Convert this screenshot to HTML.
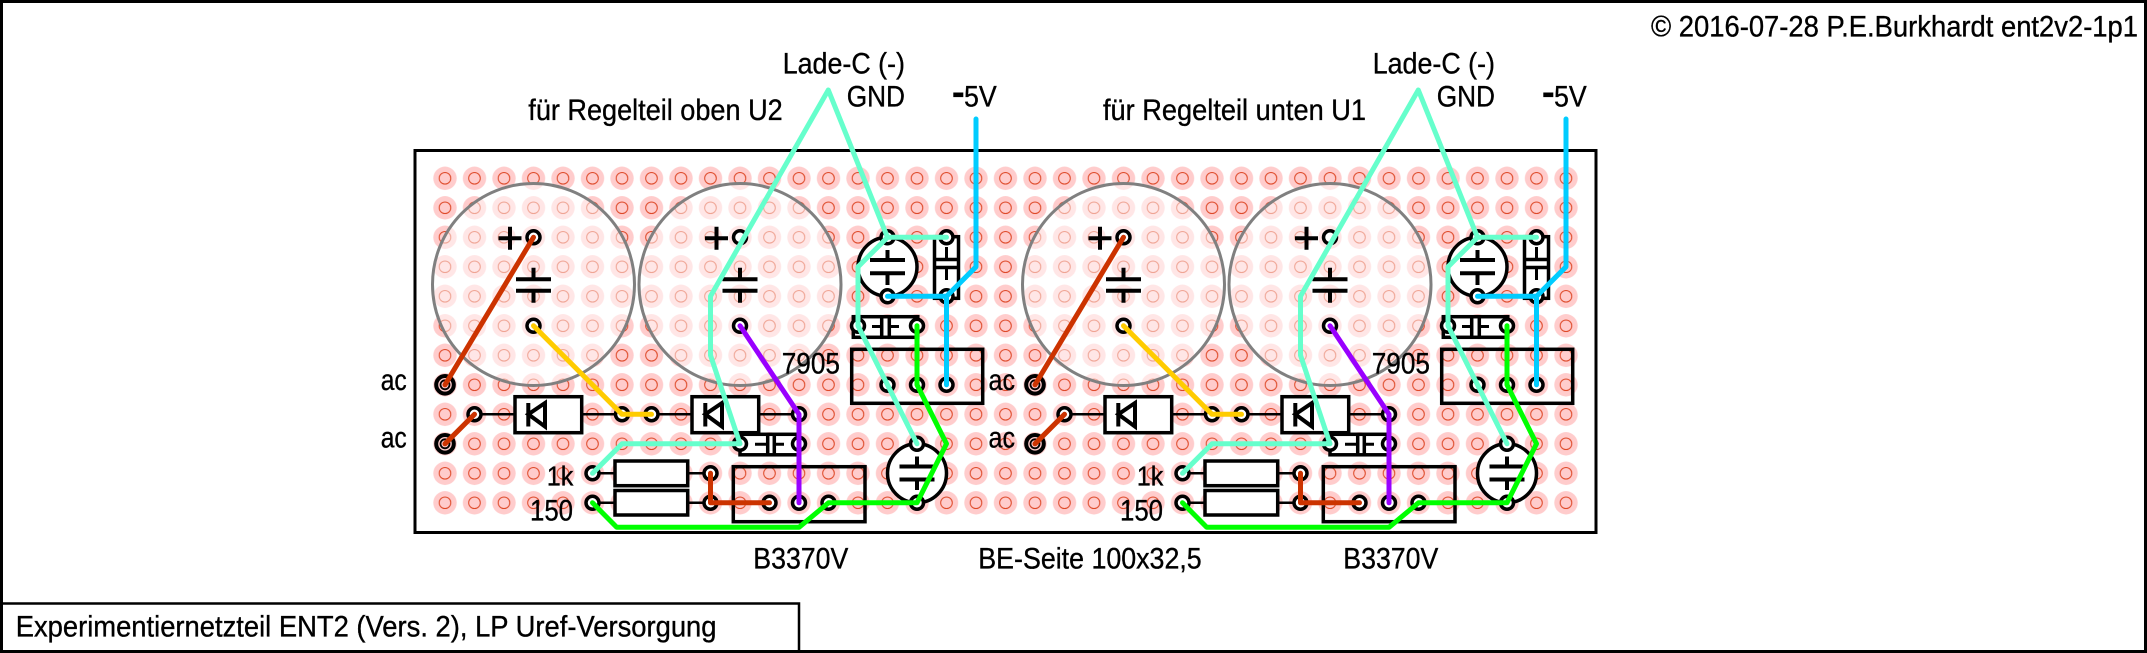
<!DOCTYPE html>
<html><head><meta charset="utf-8">
<style>
html,body{margin:0;padding:0;background:#fff;}
svg{display:block;}
text{font-family:"Liberation Sans Narrow","Liberation Sans",sans-serif;fill:#000;font-size:30px;stroke:#000;stroke-width:0.35px;}
</style></head><body>
<svg width="2147" height="653" viewBox="0 0 2147 653" xmlns="http://www.w3.org/2000/svg">
<defs>
<pattern id="holes" x="430.25" y="163.55" width="29.5" height="29.5" patternUnits="userSpaceOnUse">
<circle cx="14.75" cy="14.75" r="11.7" fill="#ffcccc"/>
<circle cx="14.75" cy="14.75" r="5.8" fill="none" stroke="#dd4422" stroke-width="1"/>
</pattern>
<g id="half">
 <circle cx="533.5" cy="284.5" r="101" fill="#fff" fill-opacity="0.5" stroke="#808080" stroke-width="3"/>
 <circle cx="740" cy="284.5" r="101" fill="#fff" fill-opacity="0.5" stroke="#808080" stroke-width="3"/>
 <path d="M498.5 238.3H521.5M510 226.8V249.8M705 238.3H728M716.5 226.8V249.8" stroke="#000" stroke-width="4" fill="none"/>
 <path d="M516 279.3H551M516 290.7H551M533.5 267.7V279.3M533.5 290.7V302.7M722.5 279.3H757.5M722.5 290.7H757.5M740 267.7V279.3M740 290.7V302.7" stroke="#000" stroke-width="4" fill="none"/>
 <path d="M474.5 414.3H622M651.5 414.3H799M592.5 473.3H710.5M592.5 502.8H710.5" stroke="#000" stroke-width="2.5" fill="none"/>
 <rect x="515" y="396.7" width="66.7" height="36" fill="#fff" stroke="#000" stroke-width="3.5"/>
 <rect x="692" y="396.7" width="66.7" height="36" fill="#fff" stroke="#000" stroke-width="3.5"/>
 <path d="M528.3 403V426.5M528.3 414.3L545 403V426.5Z M705.3 403V426.5M705.3 414.3L722 403V426.5Z" stroke="#000" stroke-width="4" fill="none" stroke-linejoin="miter"/>
 <rect x="615" y="461" width="72.7" height="24.7" fill="#fff" stroke="#000" stroke-width="3.5"/>
 <rect x="615" y="490.5" width="72.7" height="24.5" fill="#fff" stroke="#000" stroke-width="3.5"/>
 <rect x="853.3" y="316.7" width="64.5" height="20.6" fill="#fff" stroke="#000" stroke-width="3.5"/>
 <path d="M881.7 316.7V337.3M889.3 316.7V337.3" stroke="#000" stroke-width="3.5"/>
 <path d="M872 326.5H881.7M889.3 326.5H899" stroke="#000" stroke-width="3"/>
 <rect x="740" y="434.3" width="59" height="20.5" fill="#fff" stroke="#000" stroke-width="3.5"/>
 <path d="M767.7 434.3V454.8M774.3 434.3V454.8" stroke="#000" stroke-width="3.5"/>
 <path d="M755 444.3H767.7M774.3 444.3H784" stroke="#000" stroke-width="3"/>
 <rect x="934.5" y="236.7" width="24" height="61.6" fill="#fff" stroke="#000" stroke-width="3.5"/>
 <path d="M934.5 259.5H958.5M934.5 267.5H958.5" stroke="#000" stroke-width="3.5"/>
 <path d="M946.5 247V259.5M946.5 267.5V280" stroke="#000" stroke-width="3"/>
 <circle cx="887.5" cy="266.8" r="29.5" fill="#fff" stroke="#000" stroke-width="3.5"/>
 <path d="M870 260H905M870 273.3H905M887.5 250V260M887.5 273.3V285" stroke="#000" stroke-width="4" fill="none"/>
 <circle cx="917" cy="473.3" r="29.5" fill="#fff" stroke="#000" stroke-width="3.5"/>
 <path d="M899.5 466.5H934.5M899.5 479.5H934.5M917 456.5V466.5M917 479.5V490" stroke="#000" stroke-width="4" fill="none"/>
 <rect x="851.7" y="349.3" width="131" height="54" fill="none" stroke="#000" stroke-width="3.5"/>
 <rect x="733.3" y="466.7" width="131.7" height="55" fill="none" stroke="#000" stroke-width="3.5"/>
 <g fill="#fff" stroke="#000" stroke-width="3.5">
  <circle cx="533.5" cy="237.3" r="6.5"/><circle cx="533.5" cy="325.8" r="6.5"/>
  <circle cx="740" cy="237.3" r="6.5"/><circle cx="740" cy="325.8" r="6.5"/>
  <circle cx="887.5" cy="237.3" r="6.5"/><circle cx="887.5" cy="296.3" r="6.5"/>
  <circle cx="946.5" cy="237.3" r="6.5"/><circle cx="946.5" cy="296.3" r="6.5"/>
  <circle cx="858" cy="325.8" r="6.5"/><circle cx="917" cy="325.8" r="6.5"/>
  <circle cx="887.5" cy="384.8" r="6.5"/><circle cx="917" cy="384.8" r="6.5"/><circle cx="946.5" cy="384.8" r="6.5"/>
  <circle cx="474.5" cy="414.3" r="6.5"/><circle cx="622" cy="414.3" r="6.5"/>
  <circle cx="651.5" cy="414.3" r="6.5"/><circle cx="799" cy="414.3" r="6.5"/>
  <circle cx="740" cy="443.8" r="6.5"/><circle cx="799" cy="443.8" r="6.5"/>
  <circle cx="917" cy="443.8" r="6.5"/><circle cx="917" cy="502.8" r="6.5"/>
  <circle cx="592.5" cy="473.3" r="6.5"/><circle cx="710.5" cy="473.3" r="6.5"/>
  <circle cx="592.5" cy="502.8" r="6.5"/><circle cx="710.5" cy="502.8" r="6.5"/>
  <circle cx="769.5" cy="502.8" r="6.5"/><circle cx="799" cy="502.8" r="6.5"/><circle cx="828.5" cy="502.8" r="6.5"/>
 </g>
 <g fill="#ffcccc" stroke="#000">
  <circle cx="445" cy="384.8" r="8.8" stroke-width="4"/><circle cx="445" cy="384.8" r="4.5" stroke-width="1.8"/>
  <circle cx="445" cy="443.8" r="8.8" stroke-width="4"/><circle cx="445" cy="443.8" r="4.5" stroke-width="1.8"/>
 </g>
 <g fill="none" stroke-width="5" stroke-linecap="round" stroke-linejoin="round">
  <path d="M533.5 237.3L445 384.8M474.5 414.3L445 443.8M710.5 473.3V502.8H769.5" stroke="#cc3300"/>
  <path d="M533.5 325.8L622 414.3H651.5" stroke="#ffcc00"/>
  <path d="M740 325.8L799 414.3V502.8" stroke="#9900ff"/>
  <path d="M917 325.8V384.8L946.5 443.8L917 502.8H828.5L799 527.3H616.7L592.5 502.8" stroke="#00ff00"/>
  <path d="M976 119V266.8L946.5 296.3H887.5M946.5 296.3V384.8" stroke="#00ccff"/>
  <path d="M828.3 90L710.5 296.3V355.3L740 443.8H622L592.5 473.3M828.3 90L887.5 237.3H946.5M887.5 237.3L858 266.8V325.8L917 443.8" stroke="#66ffcc"/>
 </g>
 <rect x="953.3" y="92.5" width="10" height="4.6" fill="#000"/>
</g>
</defs>

<rect x="1.5" y="1.5" width="2144" height="650" fill="#fff" stroke="#000" stroke-width="3"/>
<path d="M0 603.5H799V652" fill="none" stroke="#000" stroke-width="2.5"/>

<rect x="415" y="150.5" width="1181" height="382" fill="#fff" stroke="#000" stroke-width="3"/>
<rect x="430.25" y="163.55" width="1150.5" height="354" fill="url(#holes)"/>

<use href="#half"/>
<use href="#half" x="590" y="0"/>

<text x="782.7" y="73.3" textLength="122.3" lengthAdjust="spacingAndGlyphs">Lade-C (-)</text>
<text x="846.7" y="106.7" textLength="58.3" lengthAdjust="spacingAndGlyphs">GND</text>
<text x="964" y="106.7" textLength="32.7" lengthAdjust="spacingAndGlyphs">5V</text>
<text x="528.3" y="120" textLength="254.4" lengthAdjust="spacingAndGlyphs">für Regelteil oben U2</text>
<text x="781.7" y="373.3" textLength="58.3" lengthAdjust="spacingAndGlyphs">7905</text>
<text x="380.7" y="390" textLength="26" lengthAdjust="spacingAndGlyphs">ac</text>
<text x="380.7" y="447.3" textLength="26" lengthAdjust="spacingAndGlyphs">ac</text>
<text x="546.7" y="485.7" textLength="26.6" lengthAdjust="spacingAndGlyphs" style="font-size:28px">1k</text>
<text x="530" y="520.7" textLength="43" lengthAdjust="spacingAndGlyphs">150</text>
<text x="753.3" y="568.3" textLength="95" lengthAdjust="spacingAndGlyphs">B3370V</text>

<text x="1372.7" y="73.3" textLength="122.3" lengthAdjust="spacingAndGlyphs">Lade-C (-)</text>
<text x="1436.7" y="106.7" textLength="58.3" lengthAdjust="spacingAndGlyphs">GND</text>
<text x="1554" y="106.7" textLength="32.7" lengthAdjust="spacingAndGlyphs">5V</text>
<text x="1103" y="120" textLength="263" lengthAdjust="spacingAndGlyphs">für Regelteil unten U1</text>
<text x="1371.7" y="373.3" textLength="58.3" lengthAdjust="spacingAndGlyphs">7905</text>
<text x="988.5" y="390" textLength="26.5" lengthAdjust="spacingAndGlyphs">ac</text>
<text x="988.5" y="447.3" textLength="26.5" lengthAdjust="spacingAndGlyphs">ac</text>
<text x="1136.7" y="485.7" textLength="26.6" lengthAdjust="spacingAndGlyphs" style="font-size:28px">1k</text>
<text x="1120" y="520.7" textLength="43" lengthAdjust="spacingAndGlyphs">150</text>
<text x="1343.3" y="568.3" textLength="95" lengthAdjust="spacingAndGlyphs">B3370V</text>

<text x="978.3" y="568.3" textLength="223.4" lengthAdjust="spacingAndGlyphs">BE-Seite 100x32,5</text>
<text x="1651" y="36.7" textLength="487" lengthAdjust="spacingAndGlyphs">© 2016-07-28 P.E.Burkhardt ent2v2-1p1</text>
<text x="15.7" y="636.7" textLength="700.8" lengthAdjust="spacingAndGlyphs">Experimentiernetzteil ENT2 (Vers. 2), LP Uref-Versorgung</text>
</svg>
</body></html>
